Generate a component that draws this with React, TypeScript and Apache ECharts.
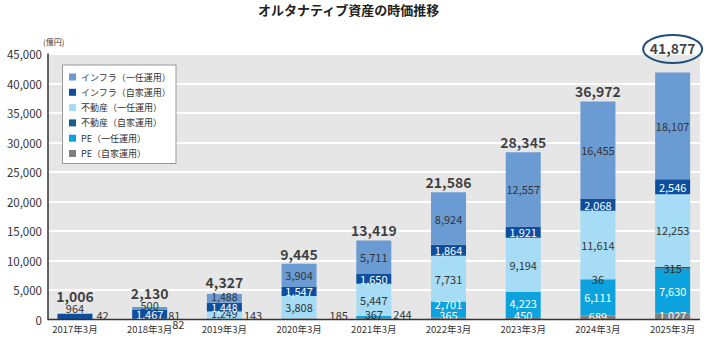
import React, { useEffect, useRef } from "react";
import * as echarts from "echarts";

const categories = ["2017年3月", "2018年3月", "2019年3月", "2020年3月", "2021年3月", "2022年3月", "2023年3月", "2024年3月", "2025年3月"];
const infraDisc = [0, 500, 1488, 3904, 5711, 8924, 12557, 16455, 18107];
const infraSelf = [964, 1467, 1448, 1547, 1650, 1864, 1921, 2068, 2546];
const reDisc = [0, 82, 1249, 3808, 5447, 7731, 9194, 11614, 12253];
const reSelf = [0, 0, 0, 0, 0, 0, 0, 36, 315];
const peDisc = [0, 0, 0, 0, 367, 2701, 4223, 6111, 7630];
const peSelf = [42, 81, 143, 185, 244, 365, 450, 689, 1027];
const totals = [1006, 2130, 4327, 9445, 13419, 21586, 28345, 36972, 41877];
const yTicks = [0, 5000, 10000, 15000, 20000, 25000, 30000, 35000, 40000, 45000];
const seriesNames = ["インフラ（一任運用）", "インフラ（自家運用）", "不動産（一任運用）", "不動産（自家運用）", "PE（一任運用）", "PE（自家運用）"];
const highlightIndex = totals.length - 1;

const FONT = "'Noto Sans CJK JP', 'Noto Sans', sans-serif";
const fmt = (v: number) => v.toLocaleString("en-US");

type LabelTweak = { position?: string; distance?: number; color?: string; offset?: number[]; fontSize?: number };

const seriesDefs: { name: string; data: number[]; color: string; labelColor: string; tweaks: Record<number, LabelTweak> }[] = [
  {
    name: seriesNames[5], data: peSelf, color: "#808080", labelColor: "#fff",
    tweaks: {
      0: { position: "right", distance: 4, color: "#333", offset: [0, -4] },
      1: { position: "right", distance: 1, color: "#333", offset: [0, -4] },
      2: { position: "right", distance: 2, color: "#333", offset: [0, -4] },
      3: { position: "right", distance: 13, color: "#333", offset: [0, -4] },
      4: { position: "right", distance: 2, color: "#333", offset: [0, -5] },
      5: { offset: [0, -4] },
      6: { offset: [0, -3] },
      7: { offset: [0, -2] },
      8: { offset: [0, -2] },
    },
  },
  {
    name: seriesNames[4], data: peDisc, color: "#0ba2de", labelColor: "#fff",
    tweaks: { 4: { color: "#333", offset: [0, -3] }, 5: { offset: [0, -5] }, 6: { offset: [0, -1] } },
  },
  { name: seriesNames[3], data: reSelf, color: "#1a5d8c", labelColor: "#333", tweaks: {} },
  {
    name: seriesNames[2], data: reDisc, color: "#a6dcf5", labelColor: "#333",
    tweaks: { 1: { position: "right", distance: 5, offset: [0, 5] }, 2: { offset: [0, -2], fontSize: 10.5 } },
  },
  {
    name: seriesNames[1], data: infraSelf, color: "#0d4f9e", labelColor: "#fff",
    tweaks: { 0: { position: "top", distance: 0, color: "#333" }, 2: { fontSize: 10.5 } },
  },
  {
    name: seriesNames[0], data: infraDisc, color: "#6b9bd3", labelColor: "#333",
    tweaks: { 1: { offset: [0, -4] }, 2: { offset: [0, -2], fontSize: 10.5 } },
  },
];

const totalOffsets: Record<number, number[]> = { 0: [0, -8], 1: [0, -4], 2: [0, -2.5], 8: [0, -14] };

export default function App() {
  const ref = useRef<HTMLDivElement>(null);
  useEffect(() => {
    if (!ref.current) return;
    const chart = echarts.init(ref.current, undefined, { renderer: "svg" });

    const barSeries = seriesDefs.map((s) => ({
      name: s.name,
      type: "bar",
      stack: "total",
      barWidth: 35,
      itemStyle: { color: s.color },
      label: {
        show: true,
        position: "inside",
        color: s.labelColor,
        fontSize: 11,
        fontFamily: FONT,
        formatter: (p: any) => fmt(p.value),
      },
      data: s.data.map((v, i) => {
        if (!v) return null;
        const t = s.tweaks[i];
        if (!t) return v;
        return { value: v, label: { ...t } };
      }),
    }));

    const totalSeries = {
      name: "合計",
      type: "scatter",
      symbolSize: 1,
      silent: true,
      itemStyle: { color: "rgba(0,0,0,0)" },
      label: {
        show: true,
        position: "top",
        distance: 2.5,
        color: "#111",
        fontSize: 14,
        fontWeight: "bold",
        fontFamily: FONT,
        formatter: (p: any) => fmt(p.value[1]),
      },
      data: totals.map((v, i) => {
        const o = totalOffsets[i];
        return o ? { value: [categories[i], v], label: { offset: o } } : { value: [categories[i], v] };
      }),
      z: 5,
    };

    chart.setOption({
      animation: false,
      textStyle: { fontFamily: FONT },
      title: {
        text: "オルタナティブ資産の時価推移",
        left: 258,
        top: 3,
        padding: 0,
        textStyle: { fontSize: 13, fontWeight: "bold", color: "#222", fontFamily: FONT },
      },
      legend: {
        data: seriesNames,
        orient: "vertical",
        left: 62.5,
        top: 65,
        padding: [6, 5, 4, 6.5],
        itemWidth: 7,
        itemHeight: 7,
        itemGap: 3.3,
        icon: "rect",
        borderColor: "#999",
        borderWidth: 1,
        backgroundColor: "#fff",
        textStyle: { fontSize: 9, lineHeight: 12, color: "#333", fontFamily: FONT },
        selectedMode: false,
      },
      grid: { left: 37.6, right: 1, top: 54, bottom: 30.4, containLabel: false },
      xAxis: {
        type: "category",
        data: categories,
        axisLine: { show: false },
        axisTick: { show: false },
        axisLabel: { color: "#333", fontSize: 9.5, margin: 4.5, fontFamily: FONT },
      },
      yAxis: {
        type: "value",
        min: yTicks[0],
        max: yTicks[yTicks.length - 1],
        interval: yTicks[1] - yTicks[0],
        offset: -10.4,
        axisLine: { show: true, lineStyle: { color: "#333", width: 1.5 } },
        axisTick: { show: false },
        axisLabel: { color: "#333", fontSize: 11.5, margin: 6, fontFamily: FONT, formatter: (v: number) => fmt(v) },
        splitLine: { show: true, lineStyle: { color: "#fff", width: 2 } },
      },
      series: [...barSeries, totalSeries],
    });

    const pt = chart.convertToPixel({ xAxisIndex: 0, yAxisIndex: 0 }, [categories[highlightIndex], totals[highlightIndex]]) as number[];
    const origin = chart.convertToPixel({ xAxisIndex: 0, yAxisIndex: 0 }, [categories[0], 0]) as number[];

    chart.setOption({
      graphic: [
        { id: "bg", type: "rect", z: -10, silent: true, shape: { x: 48, y: 54, width: 652, height: origin[1] - 54 }, style: { fill: "#e6e6e6" } },
        { id: "xline", type: "line", z: 10, silent: true, shape: { x1: 48, y1: origin[1], x2: 700, y2: origin[1] }, style: { stroke: "#333", lineWidth: 1.5 } },
        { id: "unit", type: "text", left: 43, top: 37, style: { text: "(億円)", fontSize: 8, fill: "#333", fontFamily: FONT } },
        {
          id: "ring",
          type: "ellipse",
          z: 10,
          silent: true,
          shape: { cx: pt[0], cy: pt[1] - 23.5, rx: 29.5, ry: 14 },
          style: { fill: "none", stroke: "#1f4e7d", lineWidth: 2 },
        },
      ],
    });

    return () => chart.dispose();
  }, []);

  return <div ref={ref} style={{ position: "fixed", left: 0, top: 0, width: 711, height: 350, background: "#fff" }} />;
}
